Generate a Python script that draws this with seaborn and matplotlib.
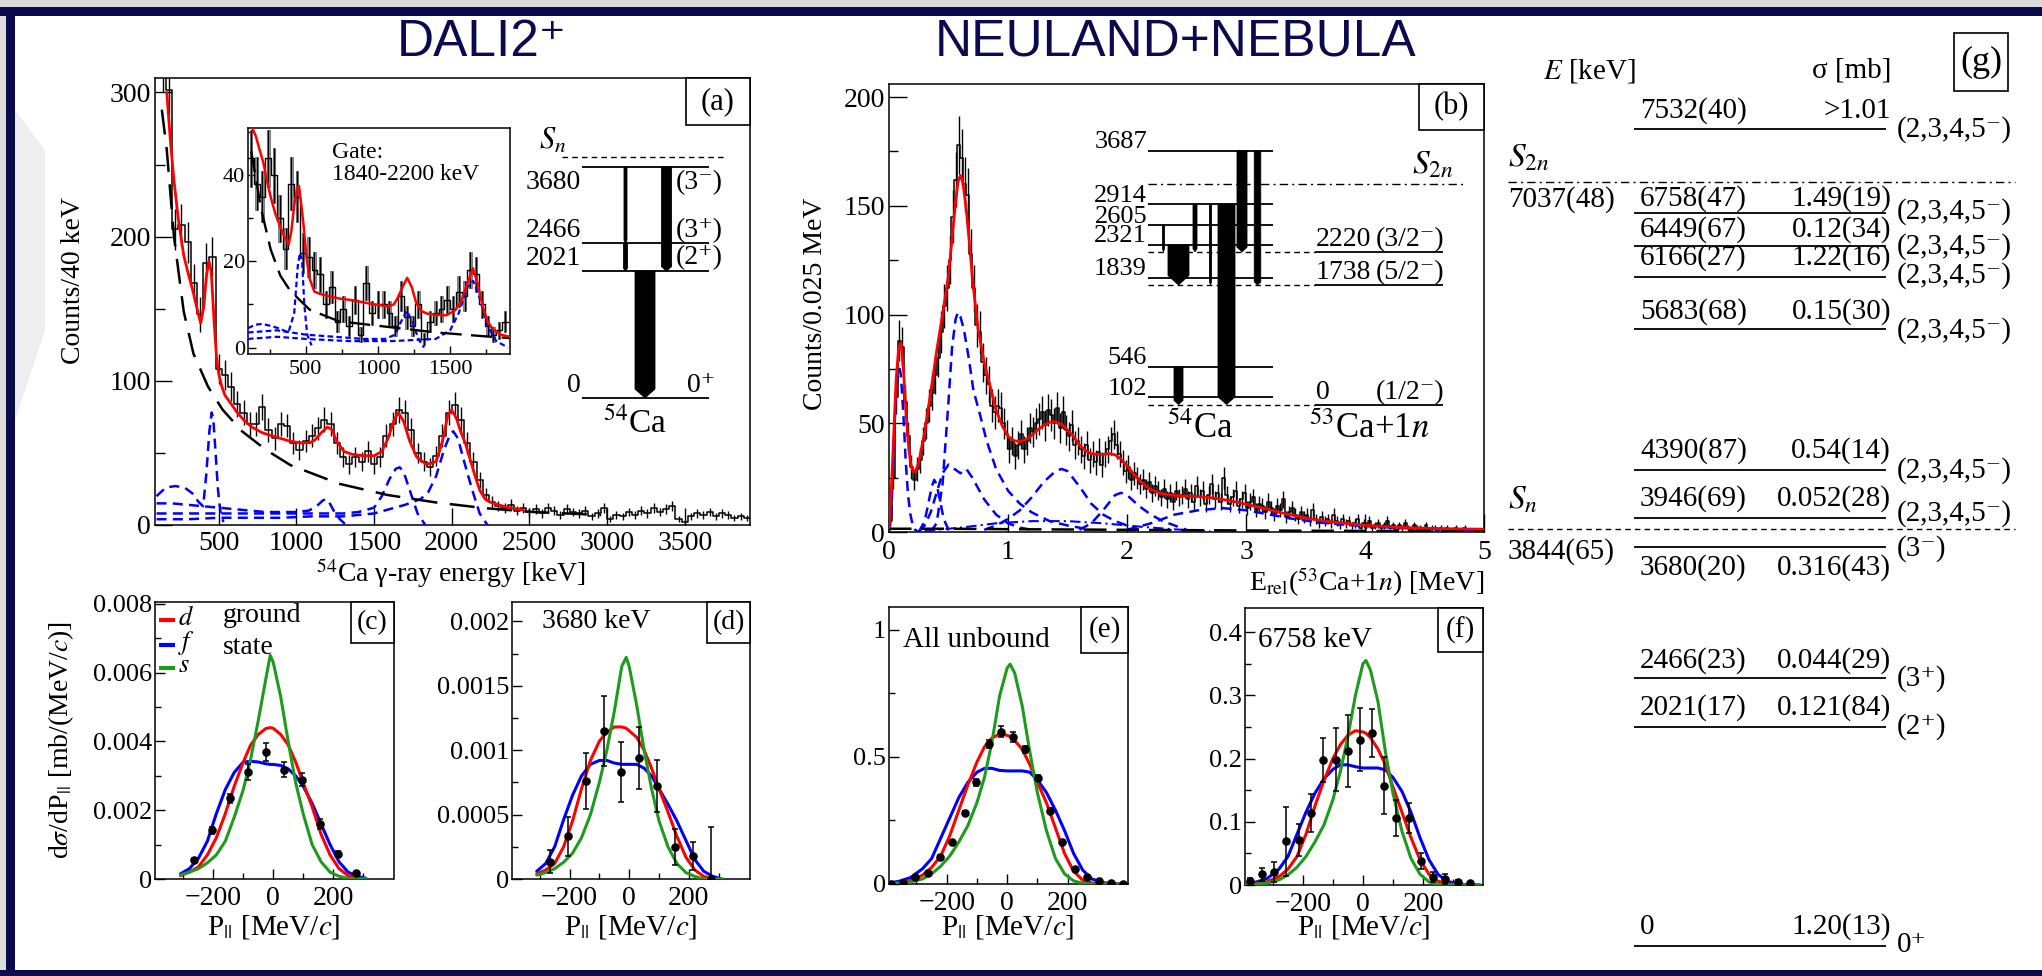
import numpy as np
import pandas as pd
import matplotlib
matplotlib.use("Agg")
import matplotlib.pyplot as plt
import seaborn as sns
from matplotlib.patches import Rectangle, Polygon
from matplotlib.ticker import FixedLocator, FixedFormatter, MultipleLocator

# ---------------------------------------------------------------- data
# (a) 54Ca gamma-ray spectrum, 40 keV bins starting at 120 keV
ga_start, ga_width = 120, 40
ga_counts = [318, 302, 205, 208, 196, 168, 146, 182, 186, 108,
             104, 96, 84, 78, 70, 70, 82, 66, 60, 70,
             69, 57, 52, 58, 62, 67, 73, 70, 57, 47,
             42, 47, 44, 51, 42, 47, 62, 70, 80, 78,
             66, 50, 44, 40, 48, 62, 78, 83, 73, 57,
             44, 31, 21, 16, 13,
             12, 14, 10, 12, 9, 11, 8, 12, 10, 7,
             11, 9, 8, 10, 6, 8, 12, 4, 7, 6,
             9, 7, 10, 8, 12, 9, 11, 13, 4, 2,
             6, 8, 7, 9, 6, 8, 7, 5, 6, 5]
ga_fit_e = [166, 190, 212, 240, 275, 300, 337, 365, 384, 405, 420, 437, 452, 470, 485,
            500, 520, 540, 580, 619, 660, 712, 780, 837, 900, 962, 1030, 1087, 1120, 1160,
            1200, 1230, 1260, 1306, 1360, 1431, 1500, 1550, 1590, 1630, 1656, 1690, 1730,
            1775, 1837, 1900, 1940, 1975, 2000, 2030, 2060, 2087, 2120, 2150, 2181, 2215,
            2244, 2300, 2369, 2462]
ga_fit_c = [300, 265, 239, 212, 187, 176, 161, 148, 140, 152, 172, 183, 176, 142, 118,
            105, 96, 90, 84, 78, 73, 68, 64, 62, 60, 58, 57, 57, 59, 64,
            68, 66, 58, 51, 49, 48, 48, 51, 60, 73, 78, 72, 58,
            47, 42, 44, 58, 76, 80, 74, 64, 57, 45, 34, 24, 18,
            16, 14, 12, 10.4]
ga_bg_e = [134, 166, 212, 275, 337, 431, 525, 650, 806, 962, 1275, 1587, 1900, 2212, 2525, 2962]
ga_bg_c = [288, 260, 200, 148, 119, 96, 80, 65, 52, 41.5, 28.6, 20.8, 15.6, 11.7, 9, 7]
ga_b1_e = [100, 160, 220, 280, 330, 370, 400, 420, 440, 455, 465, 480, 495, 510, 530]
ga_b1_c = [20, 26, 27, 26, 22, 16, 13, 35, 65, 78, 74, 50, 25, 10, 2]
ga_b2_e = [100, 200, 300, 400, 500, 600, 700, 800, 900, 1000, 1080, 1130, 1170, 1190, 1210, 1240, 1280, 1320]
ga_b2_c = [15, 15, 14, 13, 12, 11, 10, 9, 9, 9, 10, 13, 17, 18, 16, 10, 4, 0]
ga_b3_e = [100, 300, 500, 700, 900, 1100, 1300, 1400, 1500, 1550, 1600, 1640, 1665, 1690, 1730, 1780, 1830]
ga_b3_c = [8, 8, 8, 8, 8, 8, 8, 9, 12, 20, 32, 39, 40, 37, 24, 8, 0]
ga_b4_e = [100, 300, 500, 700, 900, 1100, 1300, 1500, 1700, 1800, 1850, 1900, 1950, 1990, 2010, 2040, 2080, 2130, 2180, 2230]
ga_b4_c = [4, 4, 5, 5, 5, 6, 6, 8, 14, 18, 23, 34, 52, 63, 65, 60, 44, 25, 8, 0]

# (a) inset: spectrum gated on 1840-2200 keV, 40 keV bins starting at 100 keV
gi_start, gi_width = 100, 40
gi_counts = [44, 38, 35, 44, 40, 30, 23, 38, 35, 22, 21, 18, 17, 10, 14,
             6, 9, 5, 11, 3, 15, 8, 10, 10, 8, 5, 12, 7, 5, 10,
             2, 6, 8, 9, 11, 9, 13, 12, 18, 17, 10, 5, 3, 4, 6]
gi_fit_e = [130, 155, 180, 206, 230, 257, 290, 324, 355, 382, 400, 420, 440, 453, 470, 486,
            505, 527, 560, 595, 650, 730, 820, 899, 980, 1068, 1110, 1135, 1170, 1203, 1235,
            1264, 1300, 1338, 1400, 1473, 1530, 1574, 1620, 1659, 1690, 1726, 1760, 1794, 1850, 1912]
gi_fit_c = [51, 49, 46, 43, 39, 35, 31, 28, 25.5, 24, 27, 33, 37, 37.5, 33, 28,
            21, 16, 13, 12.5, 12, 11.4, 11, 10.5, 10, 9.6, 10, 11.4, 14, 16.2, 14,
            10.5, 8.5, 7.9, 7.6, 7.5, 8.5, 10.5, 15, 18.4, 15, 9.6, 6, 4.4, 3, 2.5]
gi_bg_e = [122, 189, 257, 324, 392, 527, 730, 1068, 1405, 1743, 1912]
gi_bg_c = [45.6, 32.5, 22.8, 16.7, 13.2, 8.8, 6.1, 4.8, 3.5, 2.6, 2.2]
gi_b1_e = [100, 150, 200, 260, 320, 380, 420, 445, 460, 475, 490, 510, 540]
gi_b1_c = [4.5, 5.3, 5.5, 5, 4.4, 3.5, 8, 19, 22, 20, 10, 3, 0.5]
gi_b2_e = [100, 300, 500, 700, 900, 1050, 1120, 1160, 1200, 1240, 1280, 1320]
gi_b2_c = [3.5, 4, 3, 2.5, 2, 2, 3, 6, 8.5, 6, 2, 0]
gi_b3_e = [100, 300, 500, 800, 1100, 1400, 1500, 1560, 1620, 1660, 1700, 1760, 1820, 1900]
gi_b3_c = [2, 2.5, 2, 1.5, 1.5, 2, 4, 8, 14, 15.5, 12, 5, 1.5, 0]

# (b) relative-energy spectrum 53Ca+n, 0.025 MeV bins from 0
gb_width = 0.025
gb_counts = [5, 25, 62, 88, 85, 60, 44, 30, 24, 29,
             33, 42, 50, 58, 64, 72, 80, 92, 104, 112,
             125, 145, 162, 178, 172, 160, 155, 128, 112, 95,
             92, 78, 72, 68, 58, 55, 58, 57, 50, 45,
             38, 42, 35, 40, 45, 38, 42, 48, 46, 50,
             52, 55, 49, 56, 54, 50, 57, 48, 55, 47,
             44, 49, 40, 42, 38, 35, 40, 33, 36, 32,
             37, 31, 36, 38, 42, 45, 40, 36, 32, 28,
             30, 24, 27, 25, 22, 24, 20, 23, 18, 21,
             19, 16, 20, 15, 18, 14, 19, 16, 17, 20,
             15, 18, 14, 21, 16, 19, 13, 17, 22, 15,
             18, 14, 25, 17, 13, 16, 19, 12, 15, 18,
             11, 14, 16, 10, 13, 12, 9, 14, 11, 8,
             12, 10, 15, 7, 9, 11, 8, 6, 9, 7,
             8, 5, 10, 6, 4, 7, 5, 6, 4, 8,
             5, 3, 6, 4, 5, 3, 4, 6, 2, 4,
             3, 5, 2, 3, 4, 2, 3, 5, 2, 3,
             1, 3, 2, 4, 2, 1, 3, 2, 2, 1,
             3, 1, 2, 2, 1, 2, 1, 2, 1, 1,
             2, 1, 1, 2, 1, 1, 1, 0, 1, 1]
gb_fit_e = [0.0, 0.02, 0.04, 0.06, 0.08, 0.10, 0.12, 0.14, 0.16, 0.18, 0.20, 0.22, 0.25, 0.30,
            0.35, 0.40, 0.45, 0.50, 0.53, 0.56, 0.58, 0.60, 0.62, 0.65, 0.68, 0.71, 0.75, 0.80,
            0.85, 0.90, 0.95, 1.00, 1.05, 1.10, 1.15, 1.20, 1.25, 1.30, 1.35, 1.40, 1.45, 1.50,
            1.55, 1.60, 1.65, 1.70, 1.75, 1.80, 1.85, 1.90, 1.95, 2.00, 2.05, 2.10, 2.15, 2.20,
            2.30, 2.40, 2.50, 2.60, 2.70, 2.80, 2.90, 3.00, 3.10, 3.20, 3.30, 3.40, 3.50, 3.60,
            3.70, 3.80, 3.90, 4.00, 4.20, 4.40, 4.60, 4.80, 5.00]
gb_fit_c = [2, 20, 45, 70, 84, 87, 76, 58, 42, 32, 28, 27.5, 32, 46,
            64, 83, 100, 118, 135, 152, 161, 164, 161, 148, 130, 112, 93, 78,
            67, 56, 49, 44, 42, 41.6, 42.5, 44.5, 47, 49, 50.5, 50.7, 49.5, 47,
            44, 40, 37.5, 36, 35.7, 35.7, 36, 35.5, 33.5, 30.5, 27, 24, 21.5, 19.5,
            17.5, 16.8, 16.5, 16.3, 15.8, 15.0, 14.0, 12.8, 11.5, 10.2, 8.8, 7.6, 6.5, 5.5,
            4.8, 4.2, 3.6, 3.1, 2.4, 1.9, 1.6, 1.4, 1.3]
gb_c1_e = [0.0, 0.02, 0.04, 0.06, 0.08, 0.09, 0.10, 0.12, 0.14, 0.16, 0.18, 0.20, 0.22, 0.25]
gb_c1_c = [0, 8, 40, 65, 74, 75, 72, 55, 33, 17, 8, 3, 1, 0]
gb_c2_e = [0.25, 0.30, 0.33, 0.36, 0.38, 0.40, 0.43, 0.46, 0.50, 0.55]
gb_c2_c = [0, 5, 13, 21, 24, 22, 14, 6, 1, 0]
gb_c3_e = [0.25, 0.30, 0.35, 0.40, 0.45, 0.50, 0.55, 0.60, 0.65, 0.70, 0.80, 0.90, 1.00, 1.10, 1.20]
gb_c3_c = [0, 3, 9, 18, 27, 31, 29, 27, 29, 25, 15, 8, 4, 2, 1]
gb_c4_e = [0.35, 0.40, 0.45, 0.50, 0.53, 0.56, 0.58, 0.60, 0.63, 0.67, 0.71, 0.76, 0.82, 0.90,
           1.00, 1.10, 1.20, 1.35, 1.50, 1.70]
gb_c4_c = [0, 4, 22, 60, 85, 98, 101, 99, 93, 80, 65, 55, 42, 29, 19, 13, 9, 5, 3, 1]
gb_c5_e = [0.8, 0.9, 1.0, 1.1, 1.2, 1.3, 1.4, 1.45, 1.5, 1.6, 1.7, 1.8, 1.9, 2.0, 2.1]
gb_c5_c = [1, 3, 6, 10, 16, 23, 28, 29, 28, 21, 13, 8, 5, 3, 1]
gb_c6_e = [1.6, 1.7, 1.8, 1.9, 1.95, 2.0, 2.1, 2.2, 2.3, 2.4, 2.5]
gb_c6_c = [1, 4, 10, 17, 18, 17, 12, 8, 5, 3, 1]
gb_c7_e = [2.0, 2.2, 2.4, 2.6, 2.8, 3.0, 3.2, 3.4, 3.6, 3.8, 4.0, 4.3, 4.6, 5.0]
gb_c7_c = [1, 4, 8, 10, 11, 10, 8, 6, 4.5, 3.5, 2.7, 1.8, 1.3, 0.9]
gb_c8_e = [0.3, 0.6, 0.9, 1.2, 1.5, 1.8, 2.1, 2.4, 2.7]
gb_c8_c = [0.5, 2, 4, 5, 5, 4, 2.5, 1.2, 0.4]
gb_bg_e = [0, 0.5, 1, 2, 3, 4, 5]
gb_bg_c = [1.5, 1.5, 1.3, 1.0, 0.7, 0.5, 0.3]

# (c)-(f) parallel-momentum distributions
p_grid_cd = [-310, -280, -250, -220, -190, -160, -130, -100, -75, -50, -25, -10, 0,
             25, 50, 75, 100, 130, 160, 190, 220, 250, 280, 310]
c_s = [0.00012, 0.0002, 0.0003, 0.00047, 0.0007, 0.0011, 0.0018, 0.0026, 0.0035, 0.0046, 0.0058, 0.0065, 0.0063,
       0.0053, 0.0040, 0.0028, 0.0019, 0.0010, 0.0005, 0.0002, 0.00008, 0.00002, 0.0, 0.0]
c_d = [0.0001, 0.0002, 0.00035, 0.0007, 0.0012, 0.0019, 0.0027, 0.0034, 0.0039, 0.0042, 0.00437, 0.0044, 0.00438,
       0.0042, 0.0039, 0.0034, 0.0028, 0.0021, 0.0013, 0.0007, 0.0003, 0.0001, 0.00003, 0.0]
c_f = [0.00015, 0.0003, 0.0006, 0.0011, 0.0019, 0.0026, 0.0031, 0.0034, 0.00342, 0.0034, 0.00335, 0.00333, 0.00333,
       0.0033, 0.0032, 0.0030, 0.0027, 0.0022, 0.0016, 0.0010, 0.0005, 0.0002, 0.00008, 0.00002]
c_pts_p = [-264, -204, -144, -84, -24, 36, 96, 156, 216, 276]
c_pts_v = [0.00056, 0.00141, 0.00234, 0.00311, 0.00369, 0.00318, 0.00289, 0.0016, 0.00074, 0.00017]
c_pts_e = [0.00005, 0.0001, 0.00012, 0.00022, 0.00026, 0.00022, 0.0002, 0.00015, 0.00006, 0.00004]

d_s = [0.00003, 0.00005, 0.00008, 0.00013, 0.0002, 0.00032, 0.0005, 0.00075, 0.001, 0.0013, 0.00165, 0.00172, 0.00165,
       0.00135, 0.001, 0.0007, 0.00045, 0.00025, 0.00012, 0.00005, 0.00002, 0.0, 0.0, 0.0]
d_d = [0.00004, 0.00007, 0.00012, 0.00025, 0.00045, 0.0007, 0.00092, 0.00107, 0.00114, 0.00118, 0.00118, 0.00117, 0.00115,
       0.0011, 0.001, 0.00086, 0.0007, 0.00052, 0.00033, 0.00017, 0.00007, 0.00002, 0.0, 0.0]
d_f = [0.00006, 0.00012, 0.00025, 0.00046, 0.00065, 0.0008, 0.00089, 0.00092, 0.00092, 0.0009, 0.00089, 0.00089, 0.00089,
       0.00089, 0.00086, 0.0008, 0.0007, 0.00058, 0.00045, 0.0003, 0.00015, 0.00006, 0.00002, 0.0]
d_pts_p = [-266, -206, -146, -86, -26, 34, 94, 154, 214, 274]
d_pts_v = [0.000133, 0.00033, 0.00076, 0.00115, 0.00083, 0.00094, 0.00072, 0.00025, 0.00018, 0.0]
d_pts_e = [0.00009, 0.00015, 0.00022, 0.00027, 0.00023, 0.00024, 0.0002, 0.00014, 0.00011, 0.0004]

p_grid_ef = [-400, -360, -320, -280, -250, -220, -190, -160, -130, -100, -75, -50, -25, 0, 10,
             25, 50, 75, 100, 130, 160, 190, 220, 250, 280, 320, 360, 390]
e_s = [0, 0.002, 0.008, 0.02, 0.04, 0.07, 0.11, 0.165, 0.23, 0.32, 0.42, 0.56, 0.74, 0.85, 0.865,
       0.83, 0.7, 0.52, 0.36, 0.21, 0.1, 0.04, 0.012, 0.003, 0, 0, 0, 0]
e_d = [0.002, 0.005, 0.013, 0.035, 0.065, 0.11, 0.19, 0.29, 0.39, 0.48, 0.54, 0.575, 0.59, 0.585, 0.58,
       0.565, 0.53, 0.47, 0.4, 0.32, 0.22, 0.12, 0.05, 0.015, 0.004, 0.001, 0, 0]
e_f = [0.003, 0.01, 0.025, 0.06, 0.1, 0.18, 0.26, 0.34, 0.4, 0.44, 0.455, 0.455, 0.447, 0.445, 0.445,
       0.445, 0.445, 0.44, 0.41, 0.36, 0.29, 0.21, 0.12, 0.055, 0.02, 0.005, 0.001, 0]
e_pts_p = [-386, -345, -304, -263, -223, -182, -141, -102, -61, -20, 20, 60, 101, 141, 182, 223, 263, 304, 345, 385]
e_pts_v = [0.0, 0.005, 0.026, 0.045, 0.108, 0.164, 0.28, 0.40, 0.55, 0.60, 0.58, 0.53, 0.417, 0.289, 0.167,
           0.058, 0.029, 0.013, 0.003, 0.0]
e_pts_e = [0.003, 0.003, 0.004, 0.005, 0.006, 0.007, 0.009, 0.015, 0.015, 0.02, 0.02, 0.015, 0.012, 0.01,
           0.008, 0.006, 0.004, 0.003, 0.002, 0.002]

f_s = [0, 0.001, 0.003, 0.008, 0.016, 0.028, 0.045, 0.068, 0.095, 0.135, 0.18, 0.235, 0.3, 0.35, 0.355,
       0.34, 0.29, 0.21, 0.145, 0.085, 0.042, 0.017, 0.005, 0.001, 0, 0, 0, 0]
f_d = [0.001, 0.002, 0.005, 0.013, 0.025, 0.045, 0.08, 0.125, 0.165, 0.2, 0.222, 0.237, 0.244, 0.242, 0.24,
       0.233, 0.215, 0.19, 0.155, 0.115, 0.075, 0.04, 0.017, 0.006, 0.002, 0, 0, 0]
f_f = [0.001, 0.004, 0.01, 0.025, 0.045, 0.08, 0.115, 0.145, 0.168, 0.183, 0.19, 0.19, 0.187, 0.185, 0.185,
       0.185, 0.185, 0.182, 0.17, 0.148, 0.115, 0.075, 0.04, 0.017, 0.006, 0.001, 0, 0]
f_pts_p = [-377, -336, -295, -255, -214, -173, -132, -91, -50, -11, 30, 70, 111, 152, 193, 234, 275, 316, 357]
f_pts_v = [0.007, 0.017, 0.02, 0.069, 0.071, 0.114, 0.198, 0.198, 0.212, 0.23, 0.241, 0.157, 0.106, 0.106,
           0.038, 0.013, 0.009, 0.005, 0.003]
f_pts_e = [0.004, 0.01, 0.016, 0.055, 0.025, 0.03, 0.035, 0.05, 0.057, 0.05, 0.038, 0.045, 0.028, 0.024,
           0.012, 0.008, 0.008, 0.003, 0.002]

# level schemes (keV)
lev_a = [0, 2021, 2466, 3680]
lev_a_lab = ["0", "2021", "2466", "3680"]
lev_a_spin = ["0\u207a", "(2\u207a)", "(3\u207a)", "(3\u207b)"]
sn_a = 3844

lev_b54 = [102, 546, 1839, 2321, 2605, 2914, 3687]
lev_b53 = [0, 1738, 2220]
lev_b53_spin = ["(1/2\u207b)", "(5/2\u207b)", "(3/2\u207b)"]
s2n_b = 3205

lev_g = [7532, 6758, 6449, 6166, 5683, 4390, 3946, 3680, 2466, 2021, 0]
lev_g_lab = ["7532(40)", "6758(47)", "6449(67)", "6166(27)", "5683(68)", "4390(87)",
             "3946(69)", "3680(20)", "2466(23)", "2021(17)", "0"]
lev_g_sigma = [">1.01", "1.49(19)", "0.12(34)", "1.22(16)", "0.15(30)", "0.54(14)",
               "0.052(28)", "0.316(43)", "0.044(29)", "0.121(84)", "1.20(13)"]
lev_g_spin = ["(2,3,4,5\u207b)"] * 7 + ["(3\u207b)", "(3\u207a)", "(2\u207a)", "0\u207a"]
s2n_g, s2n_g_lab = 7037, "7037(48)"
sn_g, sn_g_lab = 3844, "3844(65)"

# ---------------------------------------------------------------- style
sns.set_theme(style="ticks")
plt.rcParams["font.family"] = ["Liberation Serif", "DejaVu Serif"]
plt.rcParams["mathtext.fontset"] = "stix"
plt.rcParams["axes.edgecolor"] = "black"
plt.rcParams["xtick.color"] = "black"
plt.rcParams["ytick.color"] = "black"
plt.rcParams["text.color"] = "black"

W, H = 2042, 976
PT = 0.72  # points per pixel at 100 dpi
NAVY = "#0c0a4e"
RED, BLUE, GREEN = "#ff0000", "#0000ff", "#1f9a1f"
SANS = ["Liberation Sans", "DejaVu Sans"]

fig = plt.figure(figsize=(W / 100, H / 100), dpi=100)
fig.patch.set_facecolor("white")


def rect(l, t, r, b):
    return [l / W, 1 - b / H, (r - l) / W, (b - t) / H]


def style(ax, major, minor, size, padx, pady):
    ax.tick_params(which="both", direction="in", top=False, right=False,
                   bottom=True, left=True, width=1.0, color="black")
    ax.tick_params(which="major", length=major, labelsize=size)
    ax.tick_params(which="minor", length=minor)
    ax.tick_params(axis="x", which="major", pad=padx)
    ax.tick_params(axis="y", which="major", pad=pady)
    for s in ax.spines.values():
        s.set_visible(True)
        s.set_color("black")
        s.set_linewidth(1.1)
    ax.set_xlabel("")
    ax.set_ylabel("")
    ax.set_facecolor("white")


def curve(ax, x, y, color, lw, dashes=None, z=3):
    sns.lineplot(x=list(x), y=list(y), ax=ax, color=color, linewidth=lw,
                 estimator=None, sort=False, zorder=z)
    line = ax.lines[-1]
    if dashes is not None:
        line.set_dashes(dashes)
    return line


def fixed_ticks(axis, vals, labels):
    axis.set_major_locator(FixedLocator(vals))
    axis.set_major_formatter(FixedFormatter(labels))


def spectrum(ax, start, width, counts, lw=1.1):
    n = len(counts)
    edges = start + width * np.arange(n + 1)
    cent = edges[:-1] + width / 2
    df = pd.DataFrame({"energy": cent, "counts": np.asarray(counts, dtype=float)})
    sns.histplot(data=df, x="energy", weights="counts", bins=list(edges), element="step",
                 fill=False, color="black", linewidth=lw, ax=ax, zorder=2)
    ax.errorbar(cent, counts, yerr=np.sqrt(counts), fmt="none", ecolor="black",
                elinewidth=1.0, zorder=2)
    return cent


# ---------------------------------------------------------------- background frame
bg = fig.add_axes([0, 0, 1, 1], zorder=-10)
bg.set_xlim(0, W)
bg.set_ylim(H, 0)
bg.axis("off")
bg.add_patch(Rectangle((0, 0), W, 8, color="#dcdcdc", lw=0))
bg.add_patch(Rectangle((0, 0), 6, H, color="#dcdcdc", lw=0))
bg.add_patch(Polygon([(15, 110), (45, 150), (45, 330), (15, 420)], closed=True, color="#eeeef0", lw=0))
bg.add_patch(Rectangle((0, 7), W, 9, color=NAVY, lw=0))
bg.add_patch(Rectangle((6, 7), 9, H, color=NAVY, lw=0))
bg.add_patch(Rectangle((0, 970), W, 6, color=NAVY, lw=0))

# ---------------------------------------------------------------- (a)
axA = fig.add_axes(rect(155, 78, 750, 525))
spectrum(axA, ga_start, ga_width, ga_counts)
for e, c in [(ga_b1_e, ga_b1_c), (ga_b2_e, ga_b2_c), (ga_b3_e, ga_b3_c), (ga_b4_e, ga_b4_c)]:
    curve(axA, e, c, BLUE, 1.8, dashes=(4, 2.5))
curve(axA, ga_bg_e, ga_bg_c, "black", 1.8, dashes=(10, 5))
curve(axA, ga_fit_e, ga_fit_c, RED, 2.0, z=4)
axA.set_xlim(90, 3920)
axA.set_ylim(0, 310)
style(axA, 12, 7, 20, 4, 3)
fixed_ticks(axA.xaxis, [500, 1000, 1500, 2000, 2500, 3000, 3500],
            ["500", "1000", "1500", "2000", "2500", "3000", "3500"])
fixed_ticks(axA.yaxis, [0, 100, 200, 300], ["0", "100", "200", "300"])
axA.yaxis.set_minor_locator(MultipleLocator(50))

# inset of (a)
axI = fig.add_axes(rect(248, 128, 510, 354))
gi_cent = gi_start + gi_width * np.arange(len(gi_counts)) + gi_width / 2
gi_err = np.sqrt(gi_counts)
axI.bar(gi_cent, 2 * gi_err, bottom=np.array(gi_counts) - gi_err,
        width=gi_width * 0.45, color="#a8a8a8", edgecolor="#707070", linewidth=0.6, zorder=1)
spectrum(axI, gi_start, gi_width, gi_counts, lw=1.0)
for e, c in [(gi_b1_e, gi_b1_c), (gi_b2_e, gi_b2_c), (gi_b3_e, gi_b3_c)]:
    curve(axI, e, c, BLUE, 1.6, dashes=(2.5, 1.5))
curve(axI, gi_bg_e, gi_bg_c, "black", 1.7, dashes=(9, 4))
curve(axI, gi_fit_e, gi_fit_c, RED, 1.8, z=4)
axI.set_xlim(100, 1915)
axI.set_ylim(-1.5, 51)
style(axI, 6, 3.5, 16, 4, 2)
fixed_ticks(axI.xaxis, [500, 1000, 1500], ["500", "1000", "1500"])
fixed_ticks(axI.yaxis, [0, 20, 40], ["0", "20", "40"])
axI.yaxis.set_minor_locator(MultipleLocator(10))
axI.xaxis.set_minor_locator(MultipleLocator(250))

# level scheme of (a): x in pixels, y in keV
ka = 0.0628
schA = fig.add_axes(rect(540, 130, 745, 440), zorder=5)
schA.set_xlim(540, 745)
schA.set_ylim((398 - 440) / ka, (398 - 130) / ka)
schA.axis("off")


def level_arrow(ax, xc, w, e_top, e_bot, k):
    tip = max(0.45 * w, 3) / k
    pts = [(xc - w / 2, e_top), (xc + w / 2, e_top), (xc + w / 2, e_bot + tip),
           (xc, e_bot), (xc - w / 2, e_bot + tip)]
    ax.add_patch(Polygon(pts, closed=True, fc="black", ec="black", lw=0.6))


schA.hlines(lev_a, 582, 709, color="black", lw=1.3)
schA.hlines(sn_a, 562, 727, color="black", lw=1.0, linestyles=(0, (4, 3)))
lab_dy_a = [12, 13, 13, -16]
spin_x_a = [687, 676, 676, 676]
for e, s, sp, dy, sx in zip(lev_a, lev_a_lab, lev_a_spin, lab_dy_a, spin_x_a):
    schA.annotate(s, (581, e), xytext=(0, dy * PT), textcoords="offset points",
                  ha="right", va="center", fontsize=20)
    schA.annotate(sp, (sx, e), xytext=(0, dy * PT), textcoords="offset points",
                  ha="left", va="center", fontsize=20)
schA.annotate("$S_n$", (553, sn_a), xytext=(0, 15 * PT), textcoords="offset points",
              ha="center", va="center", fontsize=22)
schA.annotate("$^{54}$Ca", (635, 0), xytext=(0, -26 * PT), textcoords="offset points",
              ha="center", va="center", fontsize=24)
for xc, w, et, eb in [(625.5, 3, lev_a[3], lev_a[2]), (625.5, 4, lev_a[2], lev_a[1]),
                      (666.5, 10, lev_a[3], lev_a[1]), (645, 20, lev_a[1], lev_a[0])]:
    level_arrow(schA, xc, w, et, eb, ka)

# ---------------------------------------------------------------- (b)
axB = fig.add_axes(rect(889, 84, 1484, 532))
spectrum(axB, 0.0, gb_width, gb_counts, lw=1.1)
for e, c in [(gb_c1_e, gb_c1_c), (gb_c2_e, gb_c2_c), (gb_c3_e, gb_c3_c), (gb_c4_e, gb_c4_c),
             (gb_c5_e, gb_c5_c), (gb_c6_e, gb_c6_c), (gb_c7_e, gb_c7_c)]:
    curve(axB, e, c, BLUE, 1.8, dashes=(4, 2.5))
curve(axB, gb_c8_e, gb_c8_c, BLUE, 1.5, dashes=(5, 2, 1, 2))
curve(axB, gb_bg_e, gb_bg_c, "black", 1.8, dashes=(9, 4))
curve(axB, gb_fit_e, gb_fit_c, RED, 2.0, z=4)
axB.set_xlim(0, 5)
axB.set_ylim(0, 206)
style(axB, 13, 6.5, 20, 6, 3)
fixed_ticks(axB.xaxis, [0, 1, 2, 3, 4, 5], ["0", "1", "2", "3", "4", "5"])
fixed_ticks(axB.yaxis, [0, 50, 100, 150, 200], ["0", "50", "100", "150", "200"])
axB.yaxis.set_minor_locator(MultipleLocator(25))

# level scheme of (b)
kb = 0.0688
schB = fig.add_axes(rect(1100, 130, 1475, 445), zorder=5)
schB.set_xlim(1100, 1475)
schB.set_ylim((404.5 - 445) / kb, (404.5 - 130) / kb)
schB.axis("off")
schB.hlines(lev_b54, 1148, 1273, color="black", lw=1.3)
schB.hlines(lev_b53, 1148, 1315, color="black", lw=1.0, linestyles=(0, (4, 3)))
schB.hlines(lev_b53, 1315, 1443, color="black", lw=1.3)
schB.hlines(s2n_b, 1148, 1463, color="black", lw=1.0, linestyles=(0, (6, 3, 1.5, 3)))
for e in lev_b54:
    schB.annotate(str(e), (1147, e), xytext=(0, 8.5 * PT), textcoords="offset points",
                  ha="right", va="center", fontsize=19)
for e, sp in zip(lev_b53, lev_b53_spin):
    schB.annotate(str(e), (1316, e), xytext=(0, 12 * PT), textcoords="offset points",
                  ha="left", va="center", fontsize=20)
    schB.annotate(sp, (1444, e), xytext=(0, 12 * PT), textcoords="offset points",
                  ha="right", va="center", fontsize=20)
schB.annotate("$S_{2n}$", (1433, s2n_b), xytext=(0, 19 * PT), textcoords="offset points",
              ha="center", va="center", fontsize=24)
schB.annotate("$^{54}$Ca", (1200, 0), xytext=(0, -25 * PT), textcoords="offset points",
              ha="center", va="center", fontsize=25)
schB.annotate("$^{53}$Ca+1$n$", (1369, 0), xytext=(0, -25 * PT), textcoords="offset points",
              ha="center", va="center", fontsize=25)
for xc, w, et, eb in [(1242, 10, 3687, 2220), (1257.5, 6.5, 3687, 1738), (1226.5, 17, 2914, 0),
                      (1178.5, 21, 2321, 1738), (1178.5, 9, 546, 0), (1195, 4, 2914, 2220),
                      (1210.5, 2, 2914, 1738), (1163.5, 2, 2605, 2220)]:
    level_arrow(schB, xc, w, et, eb, kb)

# ---------------------------------------------------------------- (c)-(f)
XT = [-200, 0, 200]
XTL = ["\u2212200", "0", "200"]


def momentum_panel(box, grid, s, d, f, pp, pv, pe, xlim, ylim, yt, ytl, yminor):
    ax = fig.add_axes(rect(*box))
    curve(ax, grid, f, BLUE, 2.2)
    curve(ax, grid, d, RED, 2.2)
    curve(ax, grid, s, GREEN, 2.2)
    ax.errorbar(pp, pv, yerr=pe, fmt="none", ecolor="black", elinewidth=1.1,
                capsize=2.5, capthick=1.1, zorder=5)
    sns.scatterplot(x=pp, y=pv, ax=ax, color="black", s=38, linewidth=0, zorder=6)
    ax.set_xlim(*xlim)
    ax.set_ylim(*ylim)
    style(ax, 7, 4, 19, 5, 2)
    fixed_ticks(ax.xaxis, XT, XTL)
    fixed_ticks(ax.yaxis, yt, ytl)
    ax.xaxis.set_minor_locator(FixedLocator([-300, -100, 100, 300]))
    ax.yaxis.set_minor_locator(MultipleLocator(yminor))
    ax.tick_params(axis="x", labelsize=20)
    return ax


axC = momentum_panel((155, 602, 393.5, 879), p_grid_cd, c_s, c_d, c_f, c_pts_p, c_pts_v, c_pts_e,
                     (-395, 402), (0, 0.00805), [0, 0.002, 0.004, 0.006, 0.008],
                     ["0", "0.002", "0.004", "0.006", "0.008"], 0.001)
axD = momentum_panel((512, 602, 750, 879), p_grid_cd, d_s, d_d, d_f, d_pts_p, d_pts_v, d_pts_e,
                     (-393, 405), (0, 0.00215), [0, 0.0005, 0.001, 0.0015, 0.002],
                     ["0", "0.0005", "0.001", "0.0015", "0.002"], 0.00025)
axE = momentum_panel((889, 607, 1128, 884), p_grid_ef, e_s, e_d, e_f, e_pts_p, e_pts_v, e_pts_e,
                     (-391, 400), (0, 1.09), [0, 0.5, 1], ["0", "0.5", "1"], 0.25)
axF = momentum_panel((1245, 608, 1483, 885), p_grid_ef, f_s, f_d, f_f, f_pts_p, f_pts_v, f_pts_e,
                     (-393, 400), (0, 0.438), [0, 0.1, 0.2, 0.3, 0.4],
                     ["0", "0.1", "0.2", "0.3", "0.4"], 0.05)

# ---------------------------------------------------------------- (g) level scheme
kg = 0.1085
schG = fig.add_axes(rect(1497, 20, 2042, 966), zorder=5)
schG.set_xlim(1497, 2042)
schG.set_ylim((946 - 966) / kg, (946 - 20) / kg)
schG.axis("off")
schG.hlines(lev_g, 1634, 1886, color="black", lw=1.3)
schG.hlines(s2n_g, 1508, 2015, color="black", lw=1.0, linestyles=(0, (6, 3, 1.5, 3)))
schG.hlines(sn_g, 1508, 2015, color="black", lw=1.0, linestyles=(0, (4, 3)))
lab_dy_g = [18, 14, 17, 19, 18, 19, 19, -21, 18, 19, 19]
spin_dy_g = [-1, 1, 0, 1, -1, -1, 4, -2, 0, 0, 1]
for e, lab, sig, sp, dy, sdy in zip(lev_g, lev_g_lab, lev_g_sigma, lev_g_spin, lab_dy_g, spin_dy_g):
    schG.annotate(lab, (1640, e), xytext=(0, dy * PT), textcoords="offset points",
                  ha="left", va="center", fontsize=21)
    schG.annotate(sig, (1891, e), xytext=(0, dy * PT), textcoords="offset points",
                  ha="right", va="center", fontsize=21)
    schG.annotate(sp, (1897, e), xytext=(0, sdy * PT), textcoords="offset points",
                  ha="left", va="center", fontsize=21)
schG.annotate("$S_{2n}$", (1508, s2n_g), xytext=(0, 24 * PT), textcoords="offset points",
              ha="left", va="center", fontsize=24)
schG.annotate(s2n_g_lab, (1508, s2n_g), xytext=(0, -17 * PT), textcoords="offset points",
              ha="left", va="center", fontsize=21)
schG.annotate("$S_n$", (1508, sn_g), xytext=(0, 29 * PT), textcoords="offset points",
              ha="left", va="center", fontsize=24)
schG.annotate(sn_g_lab, (1508, sn_g), xytext=(0, -23 * PT), textcoords="offset points",
              ha="left", va="center", fontsize=21)

# ---------------------------------------------------------------- overlay texts
fg = fig.add_axes([0, 0, 1, 1], zorder=20)
fg.set_xlim(0, W)
fg.set_ylim(H, 0)
fg.axis("off")

fg.text(482, 42, "DALI2\u207a", ha="center", va="center", fontsize=37, color=NAVY, family=SANS)
fg.text(1176, 42, "NEULAND+NEBULA", ha="center", va="center", fontsize=37, color=NAVY, family=SANS)


def label_box(l, t, r, b, s, fs):
    fg.add_patch(Rectangle((l, t), r - l, b - t, fc="white", ec="black", lw=1.2, zorder=3))
    fg.text((l + r) / 2, (t + b) / 2, s, ha="center", va="center", fontsize=fs, zorder=4)


label_box(686, 78, 750, 125, "(a)", 22)
label_box(1419, 84, 1484, 130, "(b)", 22)
label_box(351, 602, 393.5, 643, "(c)", 20)
label_box(707, 602, 750, 643, "(d)", 20)
label_box(1081, 607, 1128, 653, "(e)", 21)
label_box(1438, 608, 1483, 652, "(f)", 21)
label_box(1954, 33, 2008, 91, "(g)", 26)

fg.text(73, 281, "Counts/40 keV", rotation=90, ha="center", va="center", fontsize=20)
fg.text(451, 573, "$^{54}$Ca \u03b3-ray energy [keV]", ha="center", va="center", fontsize=20)
fg.text(815, 304, "Counts/0.025 MeV", rotation=90, ha="center", va="center", fontsize=20)
fg.text(1484, 582, r"E$_{\rm rel}$($^{53}$Ca+1$n$) [MeV]", ha="right", va="center", fontsize=20)
fg.text(61, 740, r"d$\sigma$/dP$_{||}$ [mb/(MeV/$c$)]", rotation=90, ha="center", va="center", fontsize=20)
for xc in [274, 631, 1008, 1364]:
    fg.text(xc, 927, r"P$_{||}$ [MeV/$c$]", ha="center", va="center", fontsize=21)

fg.text(332, 152, "Gate:", ha="left", va="center", fontsize=17)
fg.text(332, 175, "1840-2200 keV", ha="left", va="center", fontsize=17)

for yy, col, lab in [(620, RED, "$d$"), (645, BLUE, "$f$"), (668, GREEN, "$s$")]:
    fg.plot([159, 175], [yy, yy], color=col, lw=3, solid_capstyle="butt")
    fg.text(178, yy - 2, lab, ha="left", va="center", fontsize=19)
fg.text(223, 615, "ground", ha="left", va="center", fontsize=20)
fg.text(223, 647, "state", ha="left", va="center", fontsize=20)
fg.text(542, 622, "3680 keV", ha="left", va="center", fontsize=20)
fg.text(903, 640, "All unbound", ha="left", va="center", fontsize=21)
fg.text(1258, 640, "6758 keV", ha="left", va="center", fontsize=21)

fg.text(1543, 71, "$E$ [keV]", ha="left", va="center", fontsize=21)
fg.text(1891, 71, "\u03c3 [mb]", ha="right", va="center", fontsize=21)

fig.savefig("out.png", dpi=100, facecolor=fig.get_facecolor())
